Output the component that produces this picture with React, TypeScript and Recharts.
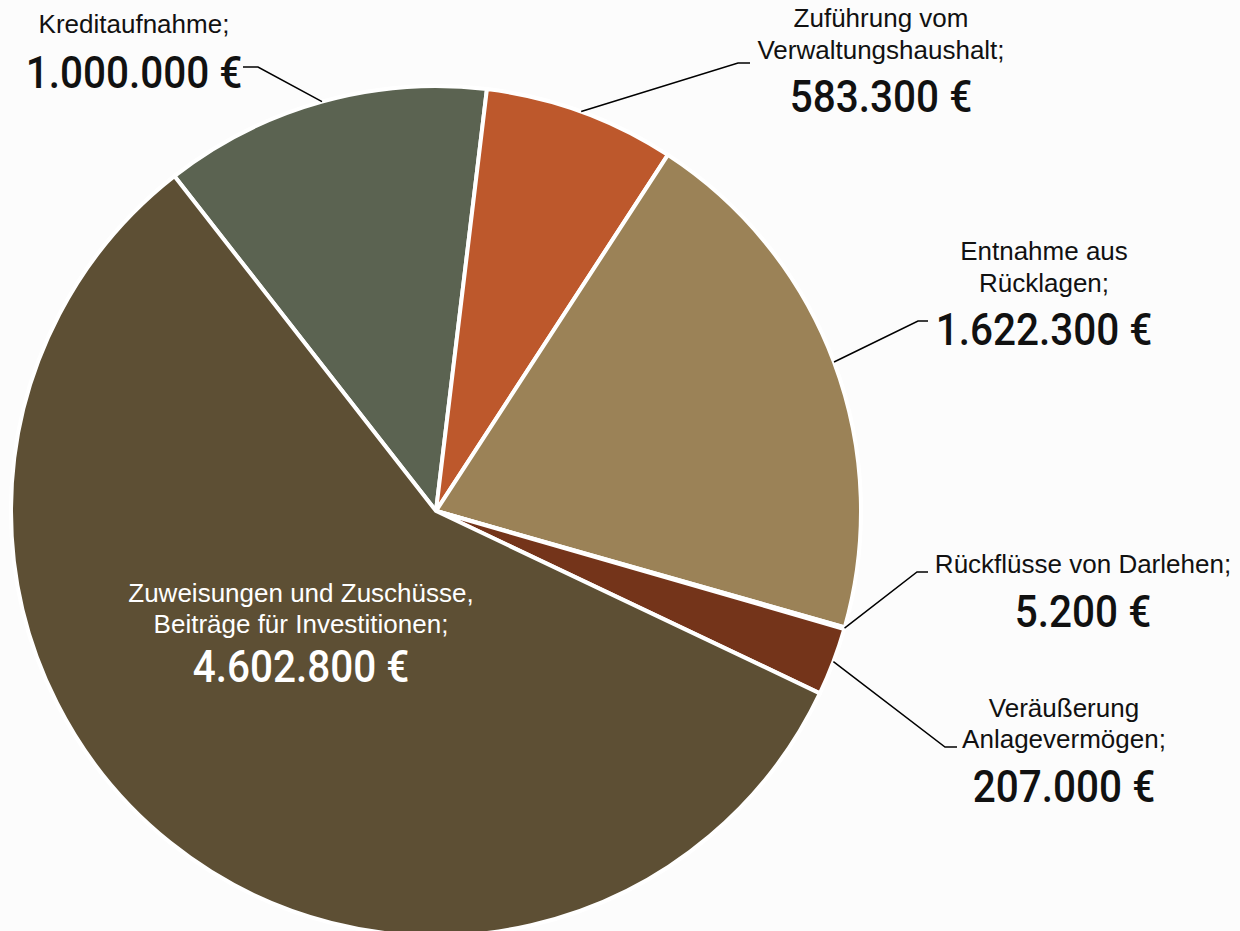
import { PieChart, Pie, Cell } from "recharts";

const CATEGORIES = [
  "Kreditaufnahme",
  "Zuführung vom Verwaltungshaushalt",
  "Entnahme aus Rücklagen",
  "Rückflüsse von Darlehen",
  "Veräußerung Anlagevermögen",
  "Zuweisungen und Zuschüsse, Beiträge für Investitionen",
];
const VALUES = [1000000, 583300, 1622300, 5200, 207000, 4602800];
const NAME_LINES = [
  ["Kreditaufnahme;"],
  ["Zuführung vom", "Verwaltungshaushalt;"],
  ["Entnahme aus", "Rücklagen;"],
  ["Rückflüsse von Darlehen;"],
  ["Veräußerung", "Anlagevermögen;"],
  ["Zuweisungen und Zuschüsse,", "Beiträge für Investitionen;"],
];
const COLORS = ["#5B6351", "#BD582C", "#9B8257", "#8A6A3A", "#74341A", "#5D4F34"];

// label boxes placed like the original (manual Excel placement)
const LABEL_LAYOUT = [
  { x: 134, names: [33], value: 88, elbow: [258, 67], end: [243, 67], fill: "#111" },
  { x: 881, names: [27, 59], value: 112, elbow: [738, 63], end: [750, 63], fill: "#111" },
  { x: 1044, names: [260, 292], value: 345, elbow: [918, 321], end: [928, 321], fill: "#111" },
  { x: 1083, names: [573], value: 627, elbow: [917, 572], end: [928, 572], fill: "#111" },
  { x: 1064, names: [717, 748], value: 802, elbow: [945, 747], end: [957, 747], fill: "#111" },
  { x: 301, names: [602, 633], value: 682, elbow: null, end: null, fill: "#fff" },
];

const data = CATEGORIES.map((name, i) => ({ name, value: VALUES[i] }));

const fmt = (v: number) => String(v).replace(/\B(?=(\d{3})+(?!\d))/g, ".") + " €";

const RAD = Math.PI / 180;

function renderLabel(props: any) {
  const { cx, cy, midAngle, outerRadius, index, value } = props;
  const lay = LABEL_LAYOUT[index];
  const sx = cx + outerRadius * Math.cos(-midAngle * RAD);
  const sy = cy + outerRadius * Math.sin(-midAngle * RAD);
  return (
    <g key={`lbl-${index}`}>
      {lay.elbow && (
        <polyline
          points={`${sx},${sy} ${lay.elbow[0]},${lay.elbow[1]} ${lay.end![0]},${lay.end![1]}`}
          fill="none"
          stroke="#000"
          strokeWidth={1.5}
        />
      )}
      {NAME_LINES[index].map((line, j) => (
        <text
          key={j}
          x={lay.x}
          y={lay.names[j]}
          textAnchor="middle"
          fill={lay.fill}
          style={{ fontFamily: "'Liberation Sans', Arial, sans-serif", fontSize: 26 }}
        >
          {line}
        </text>
      ))}
      <text
        x={0}
        y={0}
        transform={`translate(${lay.x},${lay.value}) scale(0.9,1)`}
        textAnchor="middle"
        fill={lay.fill}
        style={{ fontFamily: "Roboto, sans-serif", fontSize: 45, fontWeight: 500 }}
      >
        {fmt(value)}
      </text>
    </g>
  );
}

export default function App() {
  return (
    <div style={{ width: 1240, height: 931, background: "#FCFCFC", overflow: "hidden" }}>
      <style>{`body{margin:0}`}</style>
      <PieChart width={1240} height={931} margin={{ top: 0, right: 0, bottom: 0, left: 0 }}>
        <Pie
          data={data}
          dataKey="value"
          nameKey="name"
          cx={436}
          cy={511}
          outerRadius={425}
          startAngle={128}
          endAngle={-232}
          stroke="#FFFFFF"
          strokeWidth={4}
          label={renderLabel}
          labelLine={false}
          isAnimationActive={false}
        >
          {data.map((d, i) => (
            <Cell key={d.name} fill={COLORS[i]} />
          ))}
        </Pie>
      </PieChart>
    </div>
  );
}
